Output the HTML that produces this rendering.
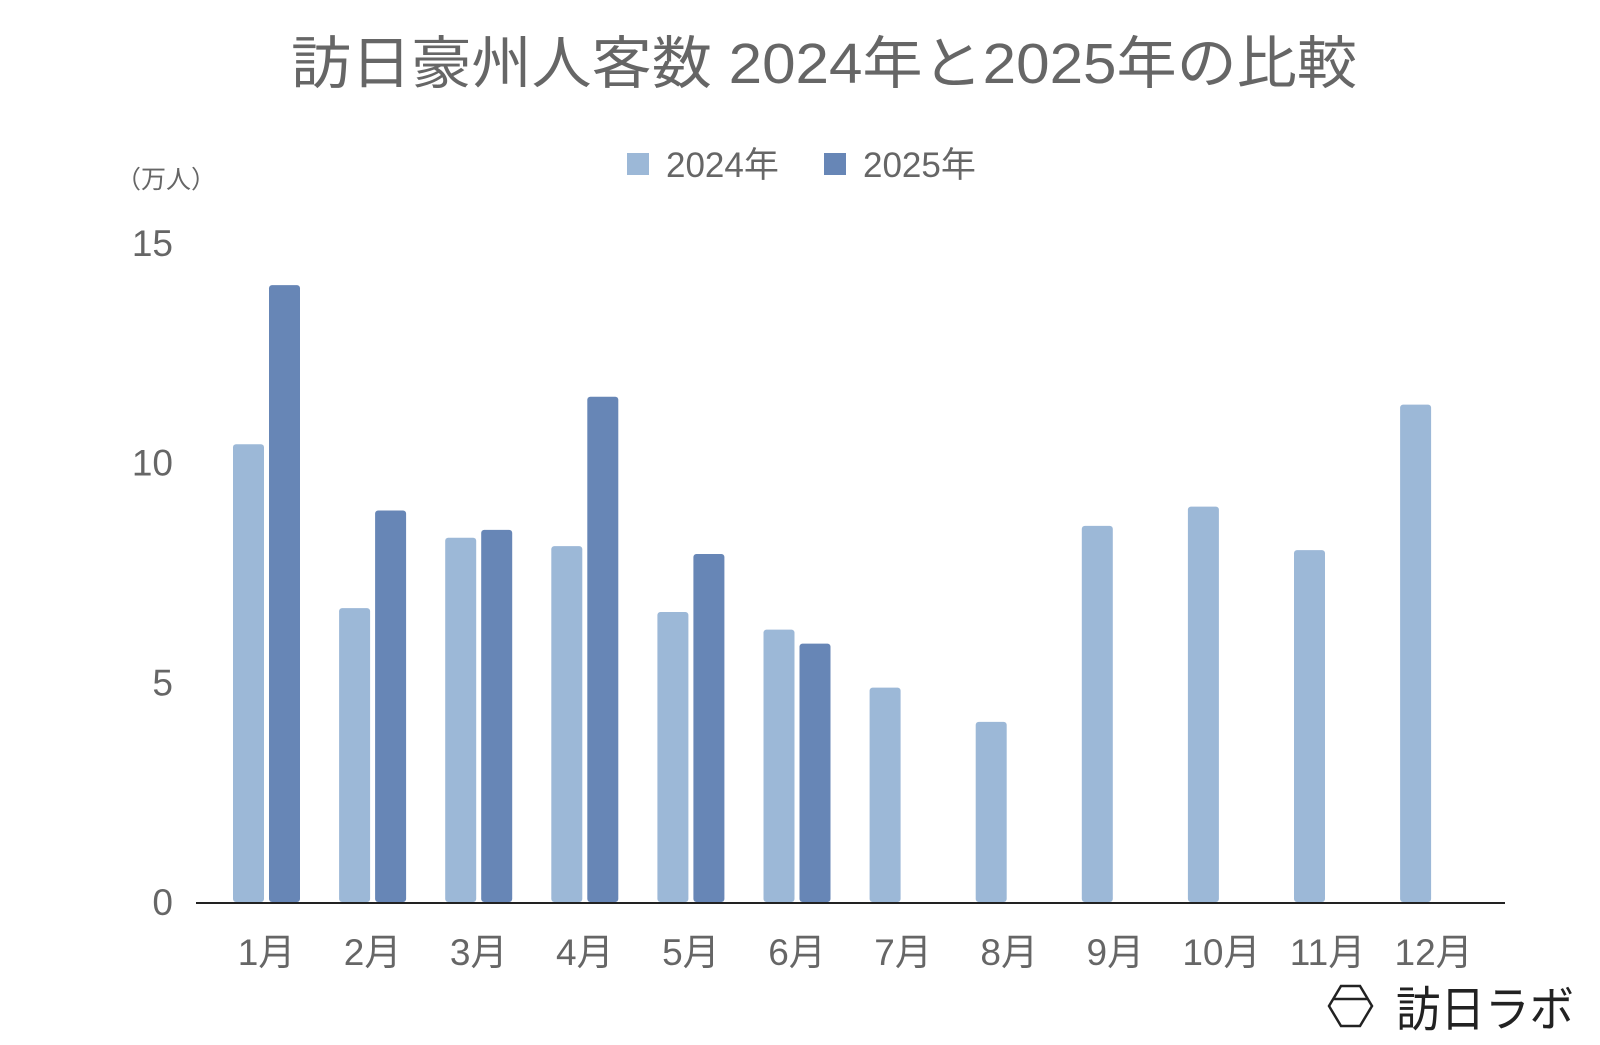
<!DOCTYPE html>
<html><head><meta charset="utf-8"><style>
body{margin:0;background:#fff;}
svg text{font-family:"Liberation Sans","Noto Sans CJK JP",sans-serif;}
</style></head><body>
<svg width="1600" height="1040" viewBox="0 0 1600 1040" xmlns="http://www.w3.org/2000/svg">
<text x="824" y="83" text-anchor="middle" font-size="57" fill="#666" textLength="1066" lengthAdjust="spacingAndGlyphs">訪日豪州人客数 2024年と2025年の比較</text>
<g>
<rect x="627" y="153" width="22" height="22" fill="#9cb8d7"/>
<text x="666" y="177" font-size="35" fill="#666">2024年</text>
<rect x="824" y="153" width="22" height="22" fill="#6786b6"/>
<text x="863" y="177" font-size="35" fill="#666">2025年</text>
</g>
<text x="116" y="188" font-size="25" fill="#666">（万人）</text>
<g id="yaxis"></g>
<g id="bars"></g>
<g id="xaxis"></g>
<g>
<polygon points="1341,986 1360,986 1372,1006 1360,1026 1341,1026 1329,1006" fill="none" stroke="#222" stroke-width="2.5"/>
<line x1="1333" y1="999" x2="1368" y2="999" stroke="#222" stroke-width="2.5"/>
<text x="1396" y="1026" font-size="48" fill="#222" textLength="178" lengthAdjust="spacingAndGlyphs">訪日ラボ</text>
</g>
</svg>
<script>
const categories=["1月","2月","3月","4月","5月","6月","7月","8月","9月","10月","11月","12月"];
const values2024=[10.42,6.69,8.29,8.10,6.60,6.20,4.88,4.10,8.56,9.0,8.01,11.32];
const values2025=[14.04,8.91,8.47,11.5,7.92,5.88,null,null,null,null,null,null];
const yTicks=[0,5,10,15];
const NS="http://www.w3.org/2000/svg";
const y0=902,yTop=243,yMax=15;
function yScale(v){return y0-(y0-yTop)*v/yMax;}
function xCenter(i){return 266.5+i*106.1;}
const bw=31,gap=5;
const bars=document.getElementById('bars'),xa=document.getElementById('xaxis'),ya=document.getElementById('yaxis');
function mk(tag,attrs,parent){const e=document.createElementNS(NS,tag);for(const k in attrs)e.setAttribute(k,attrs[k]);parent.appendChild(e);return e;}
yTicks.forEach(t=>{
 const e=mk('text',{x:173,y:yScale(t)+13,'text-anchor':'end','font-size':37,fill:'#666'},ya);
 e.textContent=t;
 
 
});
categories.forEach((c,i)=>{
 const cx=xCenter(i);
 const v1=values2024[i];
 if(v1!=null){const r=mk('rect',{x:cx-gap/2-bw,y:yScale(v1),width:bw,height:y0-yScale(v1),rx:3,fill:'#9cb8d7'},bars);
 
 }
 const v2=values2025[i];
 if(v2!=null){const r=mk('rect',{x:cx+gap/2,y:yScale(v2),width:bw,height:y0-yScale(v2),rx:3,fill:'#6786b6'},bars);
 
 }
 const t=mk('text',{x:cx,y:965,'text-anchor':'middle','font-size':37,fill:'#666'},xa);
 t.textContent=c;
 
 
});
const l=mk('line',{x1:196,y1:y0+1,x2:1505,y2:y0+1,stroke:'#222','stroke-width':2},xa);


</script>
</body></html>
